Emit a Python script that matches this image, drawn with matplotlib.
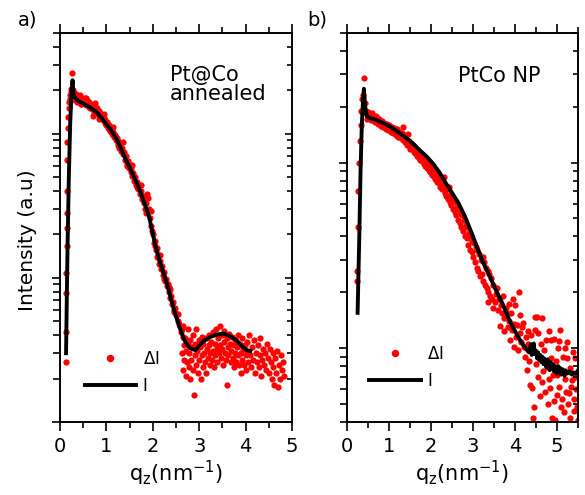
import matplotlib
matplotlib.use("Agg")
import matplotlib.pyplot as plt
from matplotlib.ticker import MultipleLocator, NullFormatter, LogLocator

plt.rcParams['font.family'] = ['DejaVu Sans']
plt.rcParams['mathtext.default'] = 'regular'

# ---------------- Panel a: Pt@Co annealed ----------------
a_line_q = [0.13, 0.16, 0.19, 0.22, 0.25, 0.27, 0.29, 0.32, 0.40, 0.50, 0.65, 0.80,
            0.95, 1.10, 1.25, 1.40, 1.55, 1.70, 1.85, 1.93, 1.96, 2.05, 2.15, 2.30,
            2.45, 2.58, 2.68, 2.78, 2.85, 2.92, 3.00, 3.10, 3.25, 3.40, 3.52, 3.62,
            3.72, 3.82, 3.92, 4.02, 4.10]
a_line_I = [3.0, 15, 50, 120, 200, 235, 190, 178, 168, 162, 152, 140,
            122, 106, 88, 68, 54, 42, 31, 26, 23, 17, 13, 9.2,
            6.1, 4.5, 3.7, 3.3, 3.2, 3.15, 3.4, 3.65, 3.9, 4.05, 4.1, 4.0,
            3.85, 3.65, 3.35, 3.15, 3.1]

a_dot_q = [0.12, 0.12, 0.13, 0.13, 0.14, 0.14, 0.15, 0.15, 0.16, 0.16, 0.17, 0.18,
           0.19, 0.20, 0.21, 0.22, 0.23, 0.24, 0.265, 0.25, 0.28,
           0.28, 0.30, 0.31, 0.33, 0.34, 0.36, 0.37, 0.39, 0.40, 0.42, 0.43, 0.45,
           0.46, 0.48, 0.50, 0.52, 0.53, 0.55, 0.57, 0.58, 0.60, 0.62, 0.63, 0.65,
           0.67, 0.68, 0.70, 0.71, 0.72, 0.73, 0.74, 0.75, 0.77, 0.79, 0.80, 0.82,
           0.84, 0.86, 0.87, 0.89, 0.91, 0.93, 0.95, 0.96, 0.98, 1.00, 1.02, 1.04,
           1.06, 1.08, 1.10, 1.12, 1.14, 1.16, 1.18, 1.20, 1.22, 1.24, 1.26, 1.28,
           1.30, 1.32, 1.34, 1.36, 1.38, 1.40, 1.42, 1.44, 1.46, 1.48, 1.50, 1.52,
           1.54, 1.56, 1.58, 1.60, 1.62, 1.64, 1.66, 1.68, 1.70, 1.72, 1.74, 1.76,
           1.78, 1.80, 1.82, 1.84, 1.86, 1.88, 1.90, 1.92, 1.94, 1.96, 1.98, 2.00,
           2.02, 2.04, 2.06, 2.08, 2.10, 2.12, 2.14, 2.16, 2.18, 2.20, 2.22, 2.24,
           2.26, 2.28, 2.30, 2.32, 2.34, 2.36, 2.38, 2.40, 2.42, 2.44, 2.46, 2.48,
           2.50, 2.52, 2.54, 2.56, 2.58, 2.60, 2.62, 2.64,
           0.35, 0.55, 0.75, 0.95, 1.15, 1.35, 1.55, 1.75, 1.95, 2.15, 2.35, 2.55,
           0.45, 0.65, 0.85, 1.05, 1.25, 1.45, 1.65, 1.85, 2.05, 2.25, 2.45,
           2.62, 2.64, 2.65, 2.67, 2.68, 2.70, 2.71, 2.72, 2.74, 2.75, 2.76, 2.78,
           2.79, 2.80, 2.81, 2.83, 2.84, 2.86, 2.87, 2.89, 2.90, 2.91, 2.93, 2.94,
           2.96, 2.97, 2.99, 3.00, 3.02, 3.03, 3.05, 3.06, 3.08, 3.09, 3.11, 3.12,
           3.14, 3.15, 3.17, 3.18, 3.20, 3.21, 3.23, 3.24, 3.26, 3.27, 3.29, 3.30,
           3.32, 3.33, 3.35, 3.36, 3.38, 3.39, 3.41, 3.42, 3.44, 3.45, 3.47, 3.48,
           3.50, 3.51, 3.53, 3.54, 3.56, 3.57, 3.59, 3.60, 3.62, 3.63, 3.65, 3.66,
           3.68, 3.69, 3.71, 3.72, 3.74, 3.75, 3.77, 3.78, 3.80, 3.81, 3.83, 3.84,
           3.86, 3.87, 3.89, 3.90, 3.92, 3.93, 3.95, 3.96, 3.98, 4.00, 4.01, 4.03,
           4.04, 4.06, 4.08, 4.10, 4.12, 4.14, 4.16, 4.18, 4.20, 4.22, 4.24, 4.26,
           4.28, 4.30, 4.32, 4.34, 4.36, 4.38, 4.40, 4.42, 4.44, 4.46, 4.48, 4.50,
           4.52, 4.54, 4.56, 4.58, 4.60, 4.62, 4.64, 4.66, 4.68, 4.70, 4.72, 4.74,
           4.76, 4.78, 4.80, 4.82]
a_dot_I = [2.6, 4.2, 7.9, 10.8, 16.5, 22, 28, 40, 66, 87, 110, 130,
           150, 165, 175, 185, 195, 205, 265, 180, 200,
           185, 175, 190, 170, 182, 176, 165, 180, 172, 185, 168, 175,
           160, 178, 170, 164, 176, 158, 168, 172, 160, 166, 152, 160,
           156, 148, 158, 132, 150, 136, 144, 155, 146, 140, 150, 138,
           143, 132, 140, 128, 135, 124, 128, 118, 124, 115, 120, 110,
           114, 104, 110, 100, 103, 95, 98, 90, 94, 86, 89, 80,
           84, 76, 80, 72, 75, 66, 70, 62, 65, 58, 61, 54,
           57, 51, 53, 47, 50, 44, 46, 41, 44, 38, 40, 35,
           37, 33, 34, 30, 33, 38, 36, 30, 26, 23, 21, 20,
           17.5, 18, 15.5, 16, 14, 14.5, 12.5, 13, 11.5, 12, 10.5, 11,
           9.5, 9.8, 8.8, 9, 8, 8.3, 7.2, 7.5, 6.6, 6.8, 6, 6.2,
           5.5, 5.6, 5, 4.8, 4.6, 4.2, 4.4, 3.9,
           188, 176, 162, 138, 112, 87, 61, 44, 29, 14.5, 8.6, 5.6,
           160, 150, 127, 107, 84, 60, 43, 28, 16.5, 9.8, 5.8,
           3.0, 4.6, 2.3, 3.4, 2.7, 3.8, 2.1, 3.1, 2.6, 4.4, 3.5, 2.4,
           3.0, 2.0, 3.7, 2.7, 3.3, 2.3, 4.0, 1.55, 2.9, 3.5, 2.5, 4.4,
           3.1, 2.2, 3.7, 2.7, 3.3, 2.0, 3.9, 2.9, 2.4, 3.5, 3.0, 2.6,
           3.8, 2.2, 3.2, 2.8, 4.0, 3.4, 2.5, 3.0, 3.6, 2.7, 4.2, 3.1,
           2.4, 3.5, 2.9, 4.4, 3.2, 2.6, 3.8, 3.0, 4.6, 3.4, 2.8, 4.0,
           3.2, 2.5, 3.6, 4.3, 3.0, 2.7, 1.8, 3.8, 3.3, 2.9, 4.1, 3.5,
           2.6, 3.1, 3.9, 2.8, 3.4, 2.4, 3.7, 3.0, 2.6, 3.3, 4.0, 2.9,
           2.5, 3.5, 3.0, 2.2, 3.8, 2.7, 3.2, 2.5, 3.4, 2.9, 2.3, 3.6,
           3.1, 2.6, 4.0, 2.9, 2.4, 3.3, 2.7, 3.7, 2.2, 3.0, 2.6, 3.4,
           2.4, 2.9, 3.8, 2.1, 2.7, 3.2, 2.5, 3.0, 2.3, 3.5, 2.8, 2.2,
           3.2, 2.6, 2.0, 3.0, 2.4, 1.8, 2.8, 2.2, 3.1, 1.75, 2.5, 2.0,
           2.9, 2.3, 2.6, 2.1]

# ---------------- Panel b: PtCo NP ----------------
b_line_q = [0.26, 0.30, 0.33, 0.36, 0.39, 0.41, 0.44, 0.48, 0.55, 0.70, 0.85, 1.00,
            1.15, 1.30, 1.45, 1.60, 1.75, 1.90, 2.05, 2.20, 2.35, 2.50, 2.65, 2.80,
            2.95, 3.10, 3.25, 3.40, 3.55, 3.70, 3.85, 3.95, 4.05, 4.15, 4.25, 4.33,
            4.35, 4.38, 4.40, 4.42, 4.45, 4.47, 4.50, 4.53, 4.55, 4.58, 4.60, 4.63,
            4.65, 4.68, 4.70, 4.73, 4.75, 4.78, 4.80, 4.83, 4.85, 4.88, 4.90, 4.93,
            4.95, 4.98, 5.00, 5.03, 5.05, 5.08, 5.10, 5.13, 5.15, 5.18, 5.20, 5.25,
            5.30, 5.35, 5.40, 5.45, 5.50]
b_line_I = [1.55, 4, 9, 16, 22, 25, 20, 17.8, 17.4, 17.0, 16.4, 15.8,
            15.0, 14.2, 13.4, 12.5, 11.6, 10.8, 9.9, 8.9, 7.8, 6.9, 6.1, 5.2,
            4.3, 3.5, 2.87, 2.45, 2.05, 1.75, 1.45, 1.3, 1.18, 1.08, 1.0, 0.95,
            0.98, 1.05, 0.92, 1.0, 1.06, 0.93, 0.97, 0.88, 0.95, 0.86, 0.92, 0.84,
            0.90, 0.82, 0.88, 0.83, 0.79, 0.87, 0.80, 0.76, 0.84, 0.78, 0.82, 0.75,
            0.80, 0.77, 0.73, 0.80, 0.75, 0.78, 0.72, 0.77, 0.74, 0.71, 0.76, 0.73,
            0.75, 0.72, 0.74, 0.73, 0.76]

b_dot_q = [0.25, 0.25, 0.27, 0.28, 0.30, 0.31, 0.33, 0.35, 0.37, 0.39, 0.41, 0.43, 0.45,
           0.47, 0.49, 0.51, 0.53, 0.55, 0.57, 0.59, 0.61, 0.63, 0.65, 0.67, 0.69,
           0.71, 0.73, 0.75, 0.77, 0.79, 0.81, 0.83, 0.85, 0.87, 0.89, 0.91, 0.93,
           0.95, 0.97, 0.99, 1.01, 1.03, 1.05, 1.07, 1.09, 1.11, 1.13, 1.15, 1.17,
           1.19, 1.21, 1.23, 1.25, 1.27, 1.29, 1.31, 1.33, 1.35, 1.37, 1.39, 1.41,
           1.43, 1.45, 1.47, 1.49, 1.51, 1.53, 1.55, 1.57, 1.59, 1.61, 1.63, 1.65,
           1.67, 1.69, 1.71, 1.73, 1.75, 1.77, 1.79, 1.81, 1.83, 1.85, 1.87, 1.89,
           1.91, 1.93, 1.95, 1.97, 1.99, 2.01, 2.03, 2.05, 2.07, 2.09, 2.11, 2.13,
           2.15, 2.17, 2.19, 2.21, 2.23, 2.25, 2.27, 2.29, 2.31, 2.33, 2.35, 2.37,
           2.39, 2.41, 2.43, 2.45, 2.47, 2.49, 2.51, 2.53, 2.55, 2.57, 2.59, 2.61,
           2.63, 2.65, 2.67, 2.69, 2.71, 2.73, 2.75, 2.77, 2.79, 2.81, 2.83, 2.85,
           2.87, 2.89, 2.91, 2.93, 2.95, 2.97, 2.99, 3.01, 3.03, 3.05, 3.07, 3.09,
           3.11, 3.13, 3.15, 3.17, 3.19, 3.21, 3.23, 3.25, 3.27, 3.29, 3.31, 3.33,
           3.35, 3.37, 3.39, 3.41, 3.43, 3.45, 3.47,
           3.49, 3.53, 3.37, 3.55, 3.58, 3.61, 3.63, 3.65, 3.67, 3.70, 3.72, 3.73,
           3.75, 3.78, 3.81, 3.83, 3.85, 3.87, 3.89, 3.91, 3.93, 3.95, 3.97, 3.99,
           4.00, 4.02, 4.05, 4.07, 4.09, 4.11, 4.13, 4.15, 4.17, 4.20, 4.22, 4.24,
           4.26, 4.28, 4.30, 4.32, 4.34, 4.36, 4.38, 4.40, 4.42, 4.44, 4.45, 4.47,
           4.48, 4.50, 4.52, 4.54, 4.56, 4.58, 4.60, 4.62, 4.64, 4.65, 4.67, 4.69,
           4.71, 4.73, 4.76, 4.78, 4.80, 4.82, 4.84, 4.85, 4.87, 4.88, 4.90, 4.92,
           4.94, 4.96, 4.98, 5.00, 5.01, 5.03, 5.04, 5.06, 5.08, 5.10, 5.12, 5.14,
           5.16, 5.18, 5.20, 5.22, 5.24, 5.25, 5.27, 5.28, 5.30, 5.32, 5.34, 5.36,
           5.38, 5.40, 5.41, 5.43, 5.44, 5.46, 5.48, 5.49]
b_dot_I = [2.3, 2.6, 4.5, 7, 10, 13, 16, 19, 22, 23, 28.5, 21, 19,
           18.5, 17.2, 18.8, 17.6, 18.2, 16.9, 17.8, 18.4, 17.0, 17.5, 16.6, 17.8,
           16.8, 17.3, 16.2, 17.1, 16.5, 15.8, 16.8, 16.1, 15.5, 16.4, 15.9, 15.2,
           16.2, 15.6, 14.9, 15.9, 15.3, 14.6, 15.6, 15.0, 14.4, 15.4, 14.8, 14.1,
           15.1, 14.5, 13.8, 14.7, 14.1, 13.5, 14.5, 15.5, 13.2, 14.0, 12.9, 13.6,
           12.5, 14.2, 12.4, 13.1, 11.8, 12.8, 11.9, 12.4, 11.4, 12.3, 11.2, 11.8,
           10.8, 11.6, 10.6, 11.3, 10.3, 11.0, 10.2, 10.9, 9.8, 10.5, 9.6, 10.3,
           9.4, 10.0, 9.1, 9.8, 8.9, 9.5, 8.6, 9.3, 8.5, 9.1, 8.2, 8.8,
           7.9, 8.6, 7.8, 8.3, 7.4, 8.0, 7.2, 7.8, 8.4, 6.9, 7.4, 6.6,
           7.2, 6.4, 7.4, 6.1, 6.8, 5.9, 6.5, 5.6, 6.3, 5.4, 6.1, 5.2,
           5.8, 4.9, 5.6, 4.7, 5.3, 4.5, 5.2, 4.3, 4.9, 4.0, 4.6, 3.9,
           4.5, 3.6, 4.2, 3.4, 4.0, 3.3, 3.8, 3.1, 3.7, 2.9, 3.5, 2.7,
           3.4, 2.6, 3.2, 2.45, 3.0, 2.5, 3.1, 2.3, 2.9, 2.2, 2.7, 2.1,
           2.6, 2.0, 2.5, 1.9, 2.4, 1.85, 2.2,
           1.64, 1.78, 1.78, 1.95, 2.1, 1.6, 1.85, 1.31, 1.7, 1.55, 1.9, 1.23,
           1.45, 1.65, 1.54, 1.3, 1.72, 1.4, 1.11, 1.55, 1.25, 1.85, 1.02, 1.35,
           1.71, 1.15, 1.34, 0.98, 2.0, 1.2, 1.51, 1.08, 1.3, 1.36, 1.02, 0.9,
           1.15, 0.76, 1.23, 1.05, 0.85, 0.63, 1.18, 0.61, 0.95, 0.42, 0.48, 1.25,
           1.48, 0.82, 1.48, 0.7, 1.2, 0.9, 0.55, 1.05, 0.66, 1.46, 0.75, 0.98,
           0.58, 1.1, 0.79, 0.5, 1.23, 0.68, 0.61, 1.11, 0.88, 0.42, 0.72, 1.12,
           0.52, 0.41, 0.85, 0.56, 0.72, 1.0, 1.09, 0.62, 1.25, 0.48, 0.53, 0.9,
           0.45, 0.68, 1.0, 0.58, 1.08, 0.88, 0.5, 0.57, 0.78, 0.42, 0.62, 0.67,
           0.95, 0.53, 0.46, 0.7, 0.88, 0.6, 0.48, 0.41]

panel_labels = ["a)", "b)"]
sample_labels = [["Pt@Co", "annealed"], ["PtCo NP"]]
xlims = [(0, 5), (0, 5.5)]
ylims = [(1, 500), (0.4, 50)]

fig = plt.figure(figsize=(5.85, 4.95), dpi=100)
ax_a = fig.add_axes([0.1026, 0.1475, 0.3966, 0.786])
ax_b = fig.add_axes([0.5926, 0.1475, 0.3954, 0.786])

FS_TICK = 14
FS_TXT = 15
FS_LEG = 12
datasets = [(a_dot_q, a_dot_I, a_line_q, a_line_I), (b_dot_q, b_dot_I, b_line_q, b_line_I)]
leg_anchor = [(0.106, 0.070), (0.098, 0.082)]
txt_x = [0.474, 0.481]
txt_base = [[0.877, 0.828], [0.875]]

for i, ax in enumerate([ax_a, ax_b]):
    dq, dI, lq, lI = datasets[i]
    ax.plot(dq, dI, 'o', color='#ff0000', ms=4.5, mew=0, label=r'$\Delta$I', zorder=2)
    ax.plot(lq, lI, '-', color='black', lw=2.8, label='I', zorder=3)
    ax.set_yscale('log')
    ax.set_xlim(*xlims[i])
    ax.set_ylim(*ylims[i])
    ax.xaxis.set_major_locator(MultipleLocator(1))
    ax.xaxis.set_minor_locator(MultipleLocator(0.5))
    ax.yaxis.set_major_locator(LogLocator(base=10))
    ax.yaxis.set_minor_locator(LogLocator(base=10, subs=range(2, 10)))
    ax.yaxis.set_major_formatter(NullFormatter())
    ax.yaxis.set_minor_formatter(NullFormatter())
    ax.tick_params(axis='x', which='both', direction='out', top=True, bottom=True,
                   labelsize=FS_TICK, width=1.2, pad=4)
    ax.tick_params(axis='x', which='major', length=6.5)
    ax.tick_params(axis='x', which='minor', length=4.3)
    ax.tick_params(axis='y', which='both', direction='out', left=True, right=False,
                   labelleft=False, width=1.2)
    ax.tick_params(axis='y', which='major', length=6)
    ax.tick_params(axis='y', which='minor', length=4.8)
    for s in ax.spines.values():
        s.set_linewidth(1.2)
    axr = ax.twinx()
    axr.set_yscale('log')
    axr.set_ylim(*ylims[i])
    axr.yaxis.set_major_locator(LogLocator(base=10))
    axr.yaxis.set_minor_locator(LogLocator(base=10, subs=range(2, 10)))
    axr.yaxis.set_major_formatter(NullFormatter())
    axr.yaxis.set_minor_formatter(NullFormatter())
    axr.tick_params(axis='y', which='both', direction='in', width=1.2, labelright=False)
    axr.tick_params(axis='y', which='major', length=5.3)
    axr.tick_params(axis='y', which='minor', length=3.6)
    for s in axr.spines.values():
        s.set_linewidth(1.2)
    ax.set_xlabel(r'q$_{z}$(nm$^{-1}$)', fontsize=FS_TXT, labelpad=2)
    for lab, yb in zip(sample_labels[i], txt_base[i]):
        ax.text(txt_x[i], yb, lab, transform=ax.transAxes,
                fontsize=FS_TXT, ha='left', va='baseline')
    ax.legend(loc='lower left', bbox_to_anchor=leg_anchor[i], frameon=False,
              fontsize=FS_LEG, handlelength=3.1, handletextpad=0.38,
              labelspacing=0.55, borderpad=0, borderaxespad=0, markerscale=1.2)

ax_a.set_ylabel('Intensity (a.u)', fontsize=14.5)
ax_a.yaxis.set_label_coords(-0.10, 0.468)
fig.text(18 / 585, 1 - 25 / 495, panel_labels[0], fontsize=14, ha='left', va='baseline')
fig.text(307 / 585, 1 - 25 / 495, panel_labels[1], fontsize=14, ha='left', va='baseline')

fig.savefig('out.png', dpi=100)
